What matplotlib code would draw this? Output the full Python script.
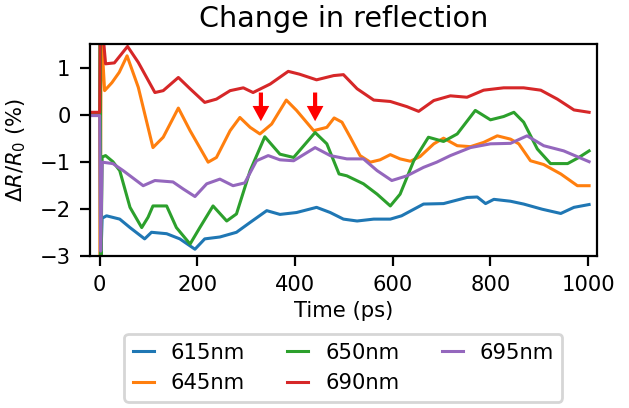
import numpy as np
import matplotlib.pyplot as plt

# values (time in ps, dR/R0 in %)
t_615 = [-20, 0, 1.5, 5, 14, 41, 62, 92, 106, 137, 164, 195, 215, 246, 280, 308, 342, 369, 403, 444,
         472, 499, 527, 561, 595, 618, 663, 704, 752, 773, 790, 807, 841, 868, 906, 944, 971, 1002]
r_615 = [0, 0, -3.3, -2.2, -2.15, -2.22, -2.40, -2.64, -2.50, -2.53, -2.64, -2.86, -2.64, -2.60, -2.50,
         -2.29, -2.04, -2.12, -2.08, -1.97, -2.08, -2.22, -2.26, -2.22, -2.22, -2.15, -1.90, -1.89, -1.76,
         -1.75, -1.89, -1.80, -1.84, -1.90, -2.01, -2.10, -1.97, -1.91]

t_645 = [-20, 0, 1, 3, 10, 25, 40, 56, 79, 109, 130, 161, 185, 222, 239, 267, 287, 308, 328, 352, 382,
         403, 438, 465, 480, 496, 513, 533, 554, 574, 595, 615, 636, 656, 684, 704, 732, 759, 786, 814,
         841, 858, 882, 909, 944, 978, 1002]
r_645 = [0, 0, -3.2, 1.8, 0.51, 0.68, 0.9, 1.25, 0.58, -0.70, -0.48, 0.14, -0.34, -1.01, -0.91, -0.34,
         -0.06, -0.27, -0.41, -0.20, 0.31, 0.09, -0.34, -0.27, -0.07, -0.16, -0.48, -0.87, -1.01, -0.96,
         -0.85, -0.94, -0.99, -0.89, -0.62, -0.50, -0.66, -0.68, -0.59, -0.45, -0.52, -0.62, -0.98, -1.06,
         -1.26, -1.51, -1.51]

t_650 = [-20, 0, 1, 2.5, 5, 12, 27, 41, 62, 86, 99, 109, 137, 157, 185, 205, 232, 260, 280, 308, 338,
         369, 397, 441, 465, 490, 506, 540, 568, 595, 615, 643, 673, 704, 732, 769, 800, 827, 848, 868,
         896, 923, 958, 981, 1002]
r_650 = [0, 0, 1.8, -3.2, -0.9, -0.87, -1.0, -1.19, -1.97, -2.40, -2.18, -1.94, -1.94, -2.40, -2.75,
         -2.40, -1.94, -2.26, -2.11, -1.19, -0.47, -0.84, -0.91, -0.38, -0.62, -1.26, -1.30, -1.47, -1.69,
         -1.94, -1.69, -0.98, -0.48, -0.57, -0.41, 0.09, -0.11, -0.04, 0.05, -0.16, -0.73, -1.04, -1.04,
         -0.91, -0.77]

t_690 = [-20, 0, 1, 6, 12, 30, 57, 79, 113, 130, 161, 185, 215, 239, 267, 294, 314, 349, 386, 409, 444,
         479, 499, 527, 561, 595, 629, 653, 684, 718, 752, 786, 827, 868, 903, 937, 971, 1002]
r_690 = [0.05, 0.05, 1.8, 1.8, 1.08, 1.1, 1.45, 1.11, 0.47, 0.51, 0.79, 0.55, 0.26, 0.33, 0.51, 0.57,
         0.47, 0.65, 0.92, 0.86, 0.74, 0.83, 0.85, 0.55, 0.31, 0.28, 0.17, 0.07, 0.30, 0.40, 0.37, 0.52,
         0.57, 0.57, 0.52, 0.33, 0.10, 0.05]

t_695 = [-20, 0, 2, 5, 27, 48, 89, 113, 150, 171, 195, 219, 246, 273, 297, 321, 345, 369, 397, 441, 472,
         506, 540, 568, 598, 629, 663, 690, 718, 759, 800, 841, 875, 909, 950, 1002]
r_695 = [-0.02, -0.02, -2.9, -1.01, -1.04, -1.19, -1.51, -1.40, -1.43, -1.58, -1.74, -1.47, -1.37, -1.51,
         -1.45, -0.98, -0.87, -0.96, -0.98, -0.70, -0.87, -0.94, -0.94, -1.19, -1.40, -1.30, -1.12, -1.01,
         -0.87, -0.70, -0.62, -0.61, -0.45, -0.66, -0.77, -1.0]

labels = ['615nm', '645nm', '650nm', '690nm', '695nm']
arrow_t = [330, 441]

plt.rcParams['font.size'] = 7.6

fig = plt.figure(figsize=(6.29 / 2, 4.08 / 2), dpi=200)
ax = fig.add_axes([0.143, 0.373, 0.806, 0.519])

for t, r, lab in zip([t_615, t_645, t_650, t_690, t_695],
                     [r_615, r_645, r_650, r_690, r_695], labels):
    ax.plot(t, r, lw=1.1, label=lab)

for x in arrow_t:
    ax.annotate('', xy=(x, -0.14), xytext=(x, 0.47),
                arrowprops=dict(facecolor='red', edgecolor='none', width=1.5,
                                headwidth=6, headlength=5.5))

ax.set_xlim(-20, 1018)
ax.set_ylim(-3, 1.5)
ax.set_xticks([0, 200, 400, 600, 800, 1000])
ax.set_yticks([-3, -2, -1, 0, 1])
ax.set_xlabel('Time (ps)', labelpad=2)
ax.set_ylabel(r'$\Delta R/R_0$ (%)')
ax.set_title('Change in reflection', fontsize=10.3)
ax.legend(ncol=3, loc='upper center', bbox_to_anchor=(0.5, -0.32), handlelength=1.0)

fig.savefig('out.png', dpi=200)
